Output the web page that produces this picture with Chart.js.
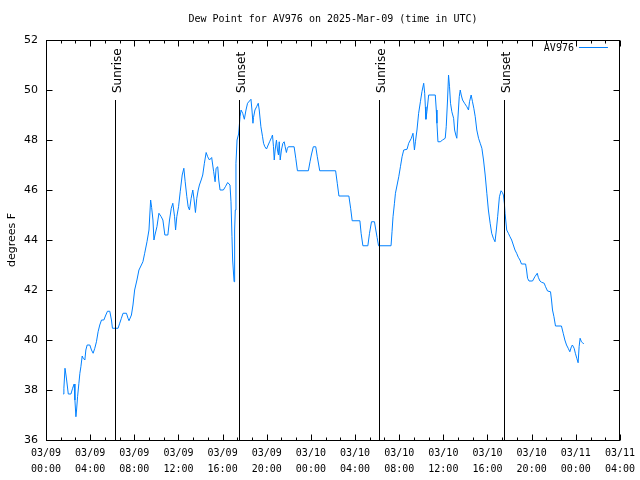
<!DOCTYPE html>
<html>
<head>
<meta charset="UTF-8">
<title>Dew Point for AV976</title>
<script src="https://cdn.jsdelivr.net/npm/chart.js"></script>
<style>
  html, body { margin: 0; padding: 0; background: #fff; }
</style>
</head>
<body>
<canvas id="chart" width="640" height="480"></canvas>
<script>
// observation times, hours after 03/09 00:00 UTC
var obsHours = [
  1.56, 1.62, 1.72, 1.81, 1.87, 2.02, 2.26, 2.41, 2.55, 2.62,
  2.71, 2.77, 2.86, 2.98, 3.07, 3.16, 3.28, 3.37, 3.52, 3.61,
  3.73, 3.97, 4.12, 4.27, 4.42, 4.57, 4.72, 4.87, 5.03, 5.24,
  5.42, 5.57, 5.78, 5.93, 6.02, 6.32, 6.53, 6.68, 6.83, 6.98,
  7.29, 7.43, 7.52, 7.74, 7.88, 8.03, 8.24, 8.42, 8.64, 8.78,
  8.94, 9.15, 9.33, 9.48, 9.57, 9.69, 9.78, 9.87, 10.05, 10.23,
  10.44, 10.59, 10.77, 11.04, 11.19, 11.35, 11.49, 11.65, 11.74, 11.85,
  12.01, 12.16, 12.34, 12.49, 12.61, 12.76, 12.88, 13.00, 13.15, 13.30,
  13.42, 13.54, 13.66, 13.79, 13.90, 14.06, 14.20, 14.35, 14.51, 14.65,
  14.81, 15.01, 15.19, 15.32, 15.41, 15.56, 15.65, 15.77, 16.07, 16.25,
  16.46, 16.67, 16.76, 16.85, 16.91, 17.04, 17.09, 17.15, 17.21, 17.31,
  17.45, 17.58, 17.67, 17.82, 17.97, 18.12, 18.26, 18.57, 18.66, 18.75,
  18.80, 18.93, 19.08, 19.23, 19.32, 19.47, 19.62, 19.71, 19.83, 19.98,
  20.13, 20.28, 20.43, 20.52, 20.61, 20.68, 20.76, 20.88, 20.97, 21.06,
  21.13, 21.22, 21.33, 21.46, 21.58, 21.67, 21.78, 21.87, 21.96, 22.48,
  22.63, 22.78, 23.77, 23.92, 24.04, 24.22, 24.44, 24.58, 24.80, 26.24,
  26.39, 26.54, 27.44, 27.60, 27.74, 28.44, 28.55, 28.71, 29.16, 29.31,
  29.49, 29.76, 29.88, 30.00, 30.13, 31.26, 31.35, 31.44, 31.57, 31.66,
  31.81, 31.96, 32.11, 32.26, 32.41, 32.71, 32.86, 33.10, 33.25, 33.38,
  33.47, 33.61, 33.76, 33.92, 34.06, 34.22, 34.31, 34.37, 34.42, 34.51,
  34.67, 35.27, 35.36, 35.42, 35.51, 35.72, 35.93, 36.17, 36.26, 36.38,
  36.47, 36.56, 36.65, 36.77, 36.93, 37.02, 37.13, 37.22, 37.31, 37.44,
  37.53, 37.62, 37.74, 37.92, 38.13, 38.28, 38.37, 38.52, 38.64, 38.76,
  38.89, 39.03, 39.19, 39.34, 39.49, 39.64, 39.79, 39.94, 40.08, 40.24,
  40.38, 40.53, 40.68, 40.80, 40.92, 41.08, 41.23, 41.35, 41.44, 41.53,
  41.59, 41.74, 41.89, 42.04, 42.19, 42.34, 42.49, 42.64, 42.79, 42.94,
  43.08, 43.45, 43.54, 43.63, 43.76, 44.08, 44.29, 44.51, 44.60, 44.75,
  44.90, 45.14, 45.26, 45.44, 45.71, 45.80, 45.89, 46.02, 46.16, 46.70,
  46.86, 47.01, 47.16, 47.31, 47.46, 47.60, 47.69, 47.85, 47.96, 48.09,
  48.21, 48.30, 48.39, 48.51, 48.60, 48.72
];

// dew point, degrees F
var dewPointF = [
  37.84, 38.07, 38.87, 38.6, 38.4, 37.84, 37.84, 38.07, 38.24, 37.6,
  36.93, 37.2, 37.73, 38.27, 38.67, 38.93, 39.36, 39.27, 39.2, 39.6,
  39.8, 39.8, 39.6, 39.47, 39.67, 39.93, 40.33, 40.6, 40.8, 40.8,
  41.0, 41.15, 41.15, 40.8, 40.47, 40.47, 40.47, 40.67, 40.87, 41.07,
  41.07, 40.87, 40.77, 41.0, 41.4, 42.0, 42.4, 42.8, 43.0, 43.13,
  43.47, 43.93, 44.4, 45.6, 45.3, 44.8, 44.0, 44.2, 44.53, 45.07,
  44.93, 44.8, 44.2, 44.2, 44.8, 45.27, 45.47, 44.93, 44.4, 44.93,
  45.33, 45.93, 46.6, 46.87, 46.33, 45.73, 45.33, 45.2, 45.67, 46.0,
  45.6, 45.1, 45.67, 46.0, 46.2, 46.4, 46.6, 47.07, 47.5, 47.33,
  47.2, 47.3, 46.73, 46.33, 46.87, 46.93, 46.4, 46.0, 46.0, 46.13,
  46.3, 46.2, 45.53, 44.13, 43.2, 42.33, 44.4, 45.2, 47.07, 48.0,
  48.24, 48.93, 49.2, 49.07, 48.83, 49.2, 49.47, 49.63, 49.2, 48.67,
  48.9, 49.2, 49.33, 49.47, 49.2, 48.53, 48.13, 47.87, 47.73, 47.64,
  47.8, 47.95, 48.1, 48.2, 47.73, 47.2, 47.6, 48.0, 47.6, 47.4,
  47.93, 47.2, 47.6, 47.87, 47.93, 47.73, 47.5, 47.67, 47.73, 47.73,
  47.27, 46.77, 46.77, 47.13, 47.4, 47.73, 47.73, 47.33, 46.77, 46.77,
  46.27, 45.76, 45.76, 45.27, 44.77, 44.77, 44.27, 43.77, 43.77, 44.27,
  44.73, 44.73, 44.4, 44.1, 43.77, 43.77, 44.33, 44.93, 45.47, 45.87,
  46.2, 46.53, 46.93, 47.33, 47.6, 47.63, 47.87, 48.07, 48.27, 47.6,
  47.93, 48.4, 49.07, 49.53, 49.93, 50.27, 49.87, 49.33, 48.83, 49.13,
  49.8, 49.8, 49.2, 48.67, 47.93, 47.93, 48.0, 48.07, 48.53, 49.6,
  50.6, 50.13, 49.47, 49.13, 48.87, 48.4, 48.2, 48.07, 48.8, 49.73,
  50.0, 49.8, 49.6, 49.47, 49.33, 49.2, 49.53, 49.8, 49.53, 49.27,
  48.93, 48.4, 48.07, 47.87, 47.67, 47.2, 46.6, 45.87, 45.2, 44.67,
  44.27, 44.07, 43.93, 44.4, 44.93, 45.73, 45.97, 45.9, 45.8, 45.47,
  45.07, 44.4, 44.27, 44.13, 44.0, 43.8, 43.6, 43.47, 43.31, 43.2,
  43.04, 43.04, 42.8, 42.47, 42.36, 42.36, 42.53, 42.67, 42.51, 42.36,
  42.31, 42.27, 42.13, 41.96, 41.93, 41.6, 41.2, 40.93, 40.56, 40.56,
  40.27, 40.0, 39.8, 39.67, 39.53, 39.73, 39.8, 39.67, 39.47, 39.27,
  39.09, 39.73, 40.07, 39.93, 39.9, 39.84
];

// sunrise / sunset marks, hours after 03/09 00:00 UTC
var sunHours = [6.23, 17.51, 30.15, 41.53];
var sunLabels = ['Sunrise', 'Sunset', 'Sunrise', 'Sunset'];

// x tick labels, every 4 hours
var xTickLabels = [
  ['03/09', '00:00'], ['03/09', '04:00'], ['03/09', '08:00'], ['03/09', '12:00'],
  ['03/09', '16:00'], ['03/09', '20:00'], ['03/10', '00:00'], ['03/10', '04:00'],
  ['03/10', '08:00'], ['03/10', '12:00'], ['03/10', '16:00'], ['03/10', '20:00'],
  ['03/11', '00:00'], ['03/11', '04:00']
];

var stationName = 'AV976';
var lineColor = 'rgb(0,128,255)';
var monoFont = '"DejaVu Sans Mono", "Liberation Mono", monospace';
var sansFont = '"DejaVu Sans", "Liberation Sans", sans-serif';

var points = [];
for (var i = 0; i < obsHours.length; i++) {
  points.push({ x: obsHours[i], y: dewPointF[i] });
}

// gnuplot style frame, inward ticks, sun lines, legend and title
var gnuplotBits = {
  id: 'gnuplotBits',
  afterDatasetsDraw: function(chart) {
    var ctx = chart.ctx;
    var a = chart.chartArea;
    var xs = chart.scales.x;
    var ys = chart.scales.y;
    ctx.save();
    ctx.strokeStyle = '#000';
    ctx.fillStyle = '#000';
    ctx.lineWidth = 1;

    // sunrise / sunset lines
    ctx.font = '12px ' + sansFont;
    for (var i = 0; i < sunHours.length; i++) {
      var px = Math.round(xs.getPixelForValue(sunHours[i])) + 0.5;
      ctx.beginPath();
      ctx.moveTo(px, a.bottom);
      ctx.lineTo(px, a.top + 60);
      ctx.stroke();
      ctx.save();
      ctx.translate(px + 2, a.top + 53);
      ctx.rotate(-Math.PI / 2);
      ctx.textAlign = 'left';
      ctx.textBaseline = 'middle';
      ctx.fillText(sunLabels[i], 0, 0);
      ctx.restore();
    }

    // frame
    var l = Math.round(a.left) + 0.5, r = Math.round(a.right) - 0.5;
    var t = Math.round(a.top) + 0.5, b = Math.round(a.bottom) + 0.5;
    ctx.strokeRect(l, t, r - l, b - t);

    // x ticks, major every 4 h, minor every 80 min
    ctx.beginPath();
    for (var k = 0; k <= 39; k++) {
      var hx = Math.round(xs.getPixelForValue(k * 4 / 3)) + 0.5;
      var len = (k % 3 === 0) ? 6 : 3;
      ctx.moveTo(hx, b); ctx.lineTo(hx, b - len);
      ctx.moveTo(hx, t); ctx.lineTo(hx, t + len);
    }
    // y ticks
    for (var v = 36; v <= 52; v += 2) {
      var py = Math.round(ys.getPixelForValue(v)) + 0.5;
      ctx.moveTo(l, py); ctx.lineTo(l + 6, py);
      ctx.moveTo(r, py); ctx.lineTo(r - 6, py);
    }
    ctx.stroke();

    // legend
    ctx.font = '10px ' + monoFont;
    ctx.textAlign = 'right';
    ctx.textBaseline = 'middle';
    ctx.fillText(stationName, a.right - 46, a.top + 8);
    ctx.strokeStyle = lineColor;
    ctx.beginPath();
    ctx.moveTo(a.right - 41, a.top + 7.5);
    ctx.lineTo(a.right - 12, a.top + 7.5);
    ctx.stroke();

    // title
    ctx.font = '10px ' + monoFont;
    ctx.fillStyle = '#000';
    ctx.textAlign = 'center';
    ctx.fillText('Dew Point for ' + stationName + ' on 2025-Mar-09 (time in UTC)', (a.left + a.right) / 2, 19);
    ctx.restore();
  }
};

var ctx = document.getElementById('chart').getContext('2d');
var chart = new Chart(ctx, {
  type: 'line',
  data: {
    datasets: [{
      label: stationName,
      data: points,
      borderColor: lineColor,
      borderWidth: 1,
      pointRadius: 0,
      tension: 0,
      fill: false
    }]
  },
  options: {
    responsive: false,
    animation: false,
    layout: { padding: { left: 0, right: 18, top: 40, bottom: 0 } },
    plugins: {
      legend: { display: false },
      tooltip: { enabled: false }
    },
    scales: {
      x: {
        type: 'linear',
        min: 0,
        max: 52,
        afterFit: function(scale) { scale.height = 40; },
        grid: { display: false, drawTicks: false },
        border: { display: false },
        ticks: {
          stepSize: 4,
          autoSkip: false,
          maxRotation: 0,
          padding: 5,
          color: '#000',
          font: { family: monoFont, size: 10, lineHeight: 1.6 },
          callback: function(value, index) {
            return xTickLabels[index] || '';
          }
        }
      },
      y: {
        min: 36,
        max: 52,
        afterFit: function(scale) { scale.width = 46; },
        grid: { display: false, drawTicks: false },
        border: { display: false },
        ticks: {
          stepSize: 2,
          padding: 8,
          color: '#000',
          font: { family: sansFont, size: 11 }
        },
        title: {
          display: true,
          text: 'degrees F',
          color: '#000',
          padding: { top: 6, bottom: 0 },
          font: { family: sansFont, size: 11 }
        }
      }
    }
  },
  plugins: [gnuplotBits]
});
</script>
</body>
</html>
